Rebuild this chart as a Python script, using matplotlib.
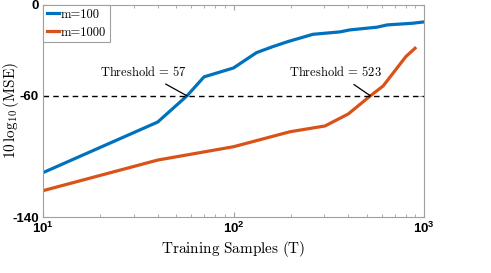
import matplotlib
matplotlib.use("Agg")
import matplotlib.pyplot as plt
from matplotlib.ticker import LogLocator, NullFormatter

plt.rcParams['mathtext.fontset'] = 'cm'

T_m100 = [10, 40, 57, 70, 100, 132, 161, 193, 261, 362, 408, 566, 640, 872, 1000]
mse_m100 = [-110.7, -77.3, -60, -47.5, -41.6, -31.5, -27.5, -24.2, -19.4, -17.8, -16.5, -14.7, -13.2, -12.1, -11.2]
T_m1000 = [10, 40, 100, 198, 302, 400, 523, 610, 803, 897]
mse_m1000 = [-122.6, -102.4, -93.6, -83.7, -79.9, -72.0, -60.0, -53.5, -34.1, -28.6]
threshold_level = -60
thresholds = [57, 523]
labels = ['m=100', 'm=1000']
yticks = [-140, -60, 0]

fig = plt.figure(figsize=(4.91, 2.73), dpi=100)
ax = fig.add_axes([0.0876, 0.205, 0.776, 0.777])

ax.plot(T_m100, mse_m100, color='#0072BD', lw=2.3, label=labels[0])
ax.plot(T_m1000, mse_m1000, color='#D95319', lw=2.3, label=labels[1])
ax.axhline(threshold_level, color='black', ls=(0, (4, 3)), lw=1.0)

ax.set_xscale('log')
ax.set_xlim(10, 1000)
ax.set_ylim(-140, 0)
ax.set_yticks(yticks)
ax.set_yticklabels([str(v) for v in yticks])
ax.xaxis.set_minor_locator(LogLocator(base=10, subs=range(2, 10)))
ax.xaxis.set_minor_formatter(NullFormatter())

for s in ax.spines.values():
    s.set_color('#a0a0a0')
    s.set_linewidth(0.8)
ax.tick_params(which='both', direction='in', top=True, right=True, color='#a0a0a0')
ax.tick_params(which='major', length=3.5, labelsize=9.5, pad=3)
ax.tick_params(which='minor', length=2)
for lab in ax.get_xticklabels() + ax.get_yticklabels():
    lab.set_fontfamily('Liberation Sans')
    lab.set_fontweight('bold')

ax.set_xlabel(r'$\mathrm{Training\ Samples\ (T)}$', fontsize=11, labelpad=2)
ax.set_ylabel(r'$10\,\log_{10}(\mathrm{MSE})$', fontsize=11, labelpad=-6)

ax.annotate(r'$\mathrm{Threshold}\,=\,57$', xy=(thresholds[0], threshold_level),
            xytext=(33.5, -44), fontsize=9, ha='center', va='center',
            arrowprops=dict(arrowstyle='-', color='black', lw=0.9, shrinkA=4, shrinkB=0))
ax.annotate(r'$\mathrm{Threshold}\,=\,523$', xy=(thresholds[1], threshold_level),
            xytext=(341, -44), fontsize=9, ha='center', va='center',
            arrowprops=dict(arrowstyle='-', color='black', lw=0.9, shrinkA=4, shrinkB=0))

leg = ax.legend(loc='upper left', prop={'family': 'cmr10', 'size': 9},
                handlelength=1.0, handletextpad=0.1, borderpad=0.3, labelspacing=0.45,
                borderaxespad=0.0, fancybox=False, framealpha=1)
leg.get_frame().set_edgecolor('#a0a0a0')
leg.get_frame().set_linewidth(0.8)

fig.savefig('out.png', dpi=100)
